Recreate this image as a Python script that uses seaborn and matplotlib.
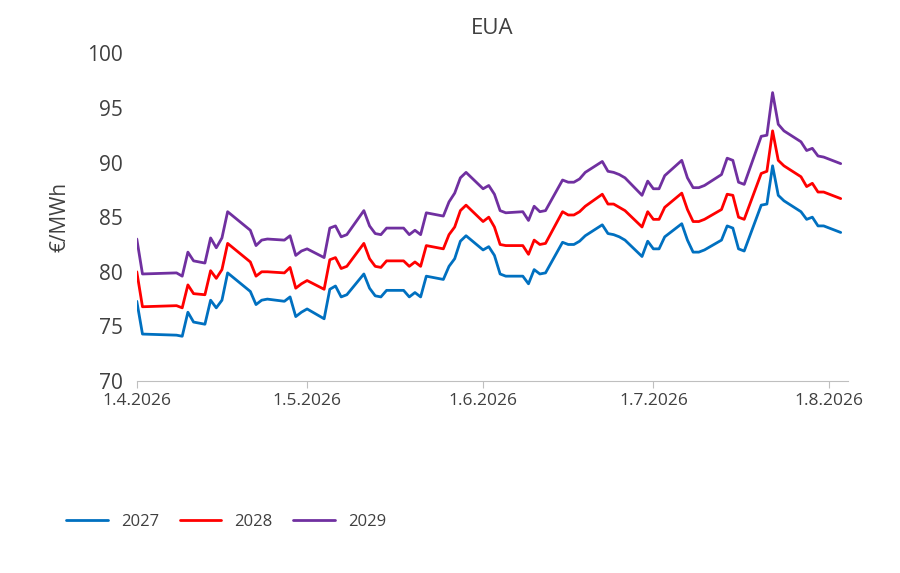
import pandas as pd
import matplotlib.pyplot as plt
import matplotlib.dates as mdates
import seaborn as sns

# trading days counted from 1.4.2026
days = [0, 1, 7, 8, 9, 10, 12, 13, 14, 15, 16, 20, 21, 22, 23, 26, 27, 28, 29, 30,
        33, 34, 35, 36, 37, 40, 41, 42, 43, 44, 47, 48, 49, 50, 51, 54, 55, 56, 57, 58,
        61, 62, 63, 64, 65, 68, 69, 70, 71, 72, 75, 76, 77, 78, 79, 82, 83, 84, 85, 86,
        89, 90, 91, 92, 93, 96, 97, 98, 99, 100, 103, 104, 105, 106, 107, 110, 111, 112, 113, 114,
        117, 118, 119, 120, 121, 124]
eua_2027 = [77.3, 74.3, 74.2, 74.1, 76.3, 75.4, 75.2, 77.4, 76.7, 77.4, 79.9, 78.2, 77.0, 77.4, 77.5,
            77.3, 77.7, 75.9, 76.3, 76.6, 75.7, 78.4, 78.7, 77.7, 77.9, 79.8, 78.5, 77.8, 77.7, 78.3,
            78.3, 77.7, 78.1, 77.7, 79.6, 79.3, 80.5, 81.2, 82.8, 83.3, 82.0, 82.3, 81.5, 79.8, 79.6,
            79.6, 78.9, 80.2, 79.8, 79.9, 82.7, 82.5, 82.5, 82.8, 83.3, 84.3, 83.5, 83.4, 83.2, 82.9,
            81.4, 82.8, 82.1, 82.1, 83.2, 84.4, 82.9, 81.8, 81.8, 82.0, 82.9, 84.2, 84.0, 82.1, 81.9,
            86.1, 86.2, 89.7, 87.0, 86.5, 85.5, 84.8, 85.0, 84.2, 84.2, 83.6]
eua_2028 = [80.0, 76.8, 76.9, 76.7, 78.8, 78.0, 77.9, 80.1, 79.4, 80.2, 82.6, 80.9, 79.6, 80.0, 80.0,
            79.9, 80.4, 78.5, 78.9, 79.2, 78.4, 81.1, 81.3, 80.3, 80.5, 82.6, 81.2, 80.5, 80.4, 81.0,
            81.0, 80.5, 80.9, 80.5, 82.4, 82.1, 83.4, 84.1, 85.6, 86.1, 84.6, 85.0, 84.1, 82.5, 82.4,
            82.4, 81.6, 82.9, 82.5, 82.6, 85.5, 85.2, 85.2, 85.5, 86.0, 87.1, 86.2, 86.2, 85.9, 85.6,
            84.1, 85.5, 84.8, 84.8, 85.9, 87.2, 85.7, 84.6, 84.6, 84.8, 85.7, 87.1, 87.0, 85.0, 84.8,
            89.0, 89.2, 92.9, 90.2, 89.7, 88.7, 87.8, 88.1, 87.3, 87.3, 86.7]
eua_2029 = [83.0, 79.8, 79.9, 79.6, 81.8, 81.0, 80.8, 83.1, 82.2, 83.1, 85.5, 83.8, 82.4, 82.9, 83.0,
            82.9, 83.3, 81.5, 81.9, 82.1, 81.3, 84.0, 84.2, 83.2, 83.4, 85.6, 84.2, 83.5, 83.4, 84.0,
            84.0, 83.4, 83.8, 83.4, 85.4, 85.1, 86.4, 87.2, 88.6, 89.1, 87.6, 87.9, 87.1, 85.6, 85.4,
            85.5, 84.7, 86.0, 85.5, 85.6, 88.4, 88.2, 88.2, 88.5, 89.1, 90.1, 89.2, 89.1, 88.9, 88.6,
            87.0, 88.3, 87.6, 87.6, 88.8, 90.2, 88.6, 87.7, 87.7, 87.9, 88.9, 90.4, 90.2, 88.2, 88.0,
            92.4, 92.5, 96.4, 93.5, 92.9, 91.9, 91.1, 91.3, 90.6, 90.5, 89.9]

dates = pd.Timestamp('2026-04-01') + pd.to_timedelta(days, unit='D')
df = pd.DataFrame({'date': dates, '2027': eua_2027, '2028': eua_2028, '2029': eua_2029})
df = df.melt(id_vars='date', var_name='contract', value_name='price')

sns.set_style('white')
plt.rcParams['font.family'] = ['Open Sans', 'DejaVu Sans']

fig = plt.figure(figsize=(9, 5.73), dpi=100)
ax = fig.add_axes([0.152, 0.335, 0.79, 0.572])
sns.lineplot(data=df, x='date', y='price', hue='contract', ax=ax, linewidth=2,
             palette={'2027': '#0070C0', '2028': '#FF0000', '2029': '#7030A0'})

ax.set_ylim(70, 100)
ax.set_xlim(pd.Timestamp('2026-04-01'), pd.Timestamp('2026-08-04 06:00'))
ax.set_yticks(range(70, 101, 5))
ax.xaxis.set_major_locator(mdates.MonthLocator())
ax.xaxis.set_major_formatter(mdates.DateFormatter('%-d.%-m.%Y'))
ax.tick_params(axis='x', labelsize=12.5, colors='#404040', length=5, direction='out',
               bottom=True, color='#BFBFBF')
ax.tick_params(axis='y', labelsize=15, colors='#404040', length=0, pad=10)
for s in ['top', 'right', 'left']:
    ax.spines[s].set_visible(False)
ax.spines['bottom'].set_color('#BFBFBF')
ax.set_xlabel('')
ax.set_ylabel('€/MWh', fontsize=15, color='#404040', labelpad=12)
ax.set_title('EUA', fontsize=16, color='#404040', pad=14)

ax.legend(loc='lower left', bbox_to_anchor=(-0.12, -0.5), ncol=3, frameon=False,
          fontsize=12, handlelength=2.5, columnspacing=1.2, labelcolor='#404040')

fig.savefig('out.png')
